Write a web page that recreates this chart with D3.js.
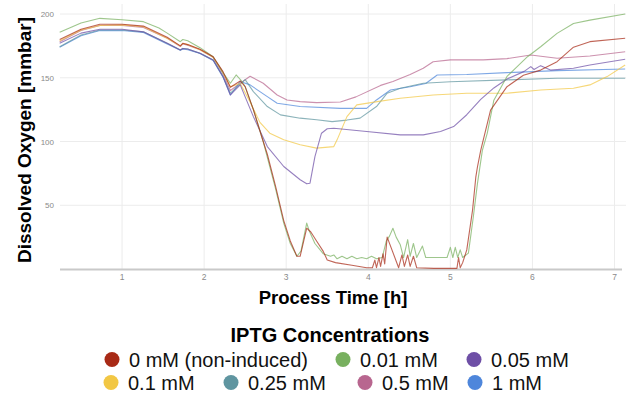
<!DOCTYPE html>
<html>
<head>
<meta charset="utf-8">
<script src="https://cdn.jsdelivr.net/npm/d3@7"></script>
<style>
  body { margin: 0; background: #fff; }
  svg { display: block; font-family: "Liberation Sans", Arial, sans-serif; }
</style>
</head>
<body>
<div id="chart"></div>
<script>
// Dissolved oxygen traces, [process time (h), DO (mbar)]
const do0mM = [[0.24,180],[0.5,188],[0.73,192],[1.0,192],[1.26,190.5],[1.55,181.7],[1.71,175],[1.74,177],[1.8,176],[1.95,172.3],[2.11,166.5],[2.23,154.8],[2.32,142.5],[2.44,147.5],[2.5,143],[2.6,125],[2.72,100],[2.77,90],[2.87,65],[2.97,38],[3.05,22],[3.13,10],[3.17,10],[3.25,32],[3.3,29],[3.37,22],[3.45,14],[3.5,7],[3.6,5],[3.8,3],[3.98,1],[4.05,1],[4.08,7],[4.1,1],[4.13,9],[4.15,2],[4.18,12],[4.2,4],[4.23,25],[4.37,1],[4.41,11],[4.44,2],[4.48,11],[4.51,2],[4.55,10],[4.59,1],[4.8,0.5],[5.08,0.5],[5.1,9],[5.12,1],[5.15,5],[5.2,15],[5.27,46],[5.31,72],[5.33,80],[5.37,93],[5.49,124.6],[5.69,143],[5.89,152],[6.1,156],[6.3,162.6],[6.5,174],[6.7,178.3],[7.13,181]];
const do001mM = [[0.24,185.6],[0.5,193],[0.73,196.6],[1.0,195.5],[1.26,194],[1.45,189],[1.55,185],[1.71,178.3],[1.74,180],[1.8,179],[1.95,173.6],[2.11,166.5],[2.23,154],[2.32,145.7],[2.39,152.2],[2.45,148],[2.5,143],[2.6,125],[2.72,100],[2.87,63],[2.97,36],[3.05,20],[3.13,10],[3.18,14],[3.25,36],[3.28,30],[3.35,20],[3.45,12],[3.54,10],[3.58,11],[3.62,8],[3.68,10],[3.74,8],[3.8,10],[3.86,8],[3.92,9],[3.98,8],[4.04,10],[4.1,8],[4.17,9],[4.22,22],[4.26,26],[4.3,32],[4.34,25],[4.39,19],[4.43,9],[4.48,23],[4.51,10],[4.55,20],[4.59,9],[4.66,18],[4.7,9],[4.8,9],[4.96,9],[5.0,17],[5.03,9],[5.06,17],[5.09,9],[5.12,15],[5.15,9],[5.22,12.5],[5.28,41],[5.33,67],[5.39,93],[5.45,106.6],[5.53,132.4],[5.69,151],[5.94,166.5],[6.1,174.3],[6.3,184.8],[6.5,192.6],[6.7,195.2],[7.13,200]];
const do005mM = [[0.24,177],[0.5,185],[0.73,188],[1.0,188],[1.26,186],[1.55,177],[1.71,171.8],[1.74,173],[1.8,172.5],[1.95,169.2],[2.11,164],[2.23,151],[2.32,136.5],[2.44,144.4],[2.5,135],[2.6,119.5],[2.77,96],[2.97,80.4],[3.17,70],[3.25,66.8],[3.29,67.3],[3.35,88.2],[3.43,106.5],[3.5,110],[3.58,110.4],[3.98,107.8],[4.39,105.2],[4.67,105.2],[4.88,107.8],[5.04,111.7],[5.2,121],[5.37,133],[5.53,142],[5.69,149],[5.9,155],[5.98,158.7],[6.02,156.5],[6.1,159.5],[6.22,156],[6.5,157.5],[6.7,160],[7.13,164.5]];
const do01mM = [[0.24,179],[0.5,187.5],[0.73,191],[1.0,191.5],[1.26,190],[1.55,181],[1.71,175],[1.74,177],[1.8,176],[1.95,172],[2.11,166],[2.23,154],[2.32,143],[2.44,145.5],[2.56,131],[2.68,115],[2.8,106.5],[2.97,101.3],[3.17,97.4],[3.37,94.8],[3.58,96],[3.62,101.3],[3.74,119.5],[3.86,128.7],[4.11,131.3],[4.39,133.9],[4.79,136.5],[5.2,137.9],[5.69,137.9],[6.1,140.4],[6.5,141.8],[6.7,144.4],[6.91,150.9],[7.13,160]];
const do025mM = [[0.24,174.3],[0.5,183.5],[0.73,187.4],[1.0,187.5],[1.26,186],[1.55,177],[1.71,171.8],[1.74,173],[1.8,172.5],[1.95,169.2],[2.11,164],[2.23,151],[2.32,138],[2.5,148.5],[2.6,139.1],[2.77,127.4],[2.93,120.9],[3.17,118.3],[3.37,117],[3.56,115.6],[3.74,116.8],[3.9,118.3],[4.1,127.4],[4.23,137.9],[4.39,141.8],[4.67,145.7],[5.0,146.9],[5.69,148.3],[6.3,149.6],[7.13,149.6]];
const do05mM = [[0.24,178.3],[0.5,187],[0.73,191],[1.0,191],[1.26,189.5],[1.55,181],[1.71,174.5],[1.74,176.5],[1.8,175.5],[1.95,172],[2.11,166],[2.23,153],[2.32,140],[2.44,145.7],[2.56,151.2],[2.72,145.7],[2.89,136.5],[3.01,132.6],[3.17,131.3],[3.37,130.5],[3.66,131],[3.85,135],[4.15,144],[4.3,147],[4.51,152.5],[4.67,157.4],[4.79,162.5],[5.0,164],[5.4,164],[5.69,165],[5.98,167.8],[6.3,165.3],[6.7,167],[7.13,170.4]];
const do1mM = [[0.24,174],[0.5,183],[0.73,187],[1.0,187],[1.26,185.5],[1.55,176.5],[1.71,171.5],[1.74,172.5],[1.8,172],[1.95,169],[2.11,163.5],[2.23,150.5],[2.32,136.5],[2.44,147],[2.56,144.4],[2.77,135.2],[2.89,130],[3.17,127.4],[3.66,126],[3.98,126],[4.1,132.6],[4.27,140.4],[4.51,143],[4.7,145.5],[4.84,152.2],[5.2,152.5],[5.69,154],[6.3,155.6],[7.13,156.9]];

const labels = ["0 mM (non-induced)", "0.01 mM", "0.05 mM", "0.1 mM", "0.25 mM", "0.5 mM", "1 mM"];
const colors = ["#a82a16", "#78b05f", "#6e4fa6", "#f2c744", "#5f95a0", "#b8668f", "#4e86db"];
const traces = [do0mM, do001mM, do005mM, do01mM, do025mM, do05mM, do1mM];
const drawOrder = [5, 6, 4, 3, 2, 1, 0];

const xTicks = [1, 2, 3, 4, 5, 6, 7];
const yTicks = [50, 100, 150, 200];

const width = 626, height = 393;
const svg = d3.select("#chart").append("svg")
  .attr("width", width)
  .attr("height", height);

const x = d3.scaleLinear().domain([0.244, 7.14]).range([60, 626]);
const y = d3.scaleLinear().domain([0, 200]).range([269, 14]);

// grid
svg.append("g").selectAll("line")
  .data(yTicks)
  .join("line")
  .attr("x1", 60).attr("x2", 626)
  .attr("y1", d => y(d)).attr("y2", d => y(d))
  .attr("stroke", "#ececec");

svg.append("g").selectAll("line")
  .data(xTicks)
  .join("line")
  .attr("x1", d => x(d)).attr("x2", d => x(d))
  .attr("y1", 4).attr("y2", 269)
  .attr("stroke", "#ececec");

// axis line + tick labels
svg.append("line")
  .attr("x1", 60).attr("x2", 622)
  .attr("y1", 269.5).attr("y2", 269.5)
  .attr("stroke", "#c9c9c9")
  .attr("stroke-width", 2);

svg.append("g").selectAll("text")
  .data(xTicks)
  .join("text")
  .attr("x", d => x(d))
  .attr("y", 280)
  .attr("text-anchor", "middle")
  .attr("font-size", 8.5)
  .attr("fill", "#8a8a8a")
  .text(d => d);

svg.append("g").selectAll("text")
  .data(yTicks)
  .join("text")
  .attr("x", 54)
  .attr("y", d => y(d) + 3)
  .attr("text-anchor", "end")
  .attr("font-size", 8)
  .attr("fill", "#8a8a8a")
  .text(d => d);

// lines
const line = d3.line()
  .x(d => x(d[0]))
  .y(d => y(d[1]));

svg.append("g").selectAll("path")
  .data(drawOrder)
  .join("path")
  .attr("d", i => line(traces[i]))
  .attr("fill", "none")
  .attr("stroke", i => colors[i])
  .attr("stroke-opacity", 0.72)
  .attr("stroke-width", 1.1)
  .attr("stroke-linejoin", "round");

// axis titles
svg.append("text")
  .attr("x", 333)
  .attr("y", 304)
  .attr("text-anchor", "middle")
  .attr("font-size", 18.5)
  .attr("font-weight", "bold")
  .text("Process Time [h]");

svg.append("text")
  .attr("transform", "translate(31,140) rotate(-90)")
  .attr("text-anchor", "middle")
  .attr("font-size", 19)
  .attr("font-weight", "bold")
  .text("Dissolved Oxygen [mmbar]");

// legend
svg.append("text")
  .attr("x", 330)
  .attr("y", 341.5)
  .attr("text-anchor", "middle")
  .attr("font-size", 20)
  .attr("font-weight", "bold")
  .text("IPTG Concentrations");

const legendX = [112, 343, 474, 111, 231, 365, 475];
const legendY = [359.5, 359.5, 359.5, 382.5, 382.5, 382.5, 382.5];

const item = svg.append("g").selectAll("g")
  .data(labels)
  .join("g")
  .attr("transform", (d, i) => `translate(${legendX[i]},${legendY[i]})`);

item.append("circle")
  .attr("r", 7.5)
  .attr("fill", (d, i) => colors[i]);

item.append("text")
  .attr("x", 17)
  .attr("y", 7)
  .attr("font-size", 20)
  .attr("fill", "#111")
  .text(d => d);
</script>
</body>
</html>
